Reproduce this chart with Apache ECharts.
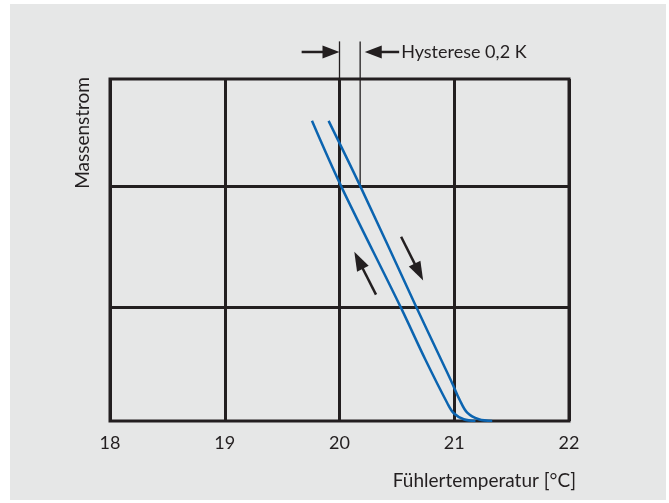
<!DOCTYPE html>
<html>
<head>
<meta charset="utf-8">
<script src="https://cdn.jsdelivr.net/npm/echarts@6/dist/echarts.min.js"></script>
<style>
  html, body { margin: 0; padding: 0; background: #fff; }
  #bg { position: absolute; left: 10px; top: 4px; width: 656px; height: 496px; background: #e6e7e7; }
  #main { position: absolute; left: 0; top: 0; width: 669px; height: 503px; }
</style>
</head>
<body>
<div id="bg"></div>
<div id="main"></div>
<script>
// Achsen
const xMin = 18;
const xMax = 22;
const xStep = 1;
const yMin = 0;
const yMax = 3;
const yGridLines = [1, 2.06];

// Kennlinien [Temperatur, Massenstrom]
const curveRising = [
  [19.76, 2.633], [20.016, 2.056], [20.531, 1.003], [20.749, 0.537],
  [20.94, 0.156], [20.996, 0.068], [21.083, 0.015], [21.185, 0]
];
const curveFalling = [
  [19.905, 2.633], [20.183, 2.056], [20.668, 1.003], [20.886, 0.537],
  [20.982, 0.332], [21.045, 0.19], [21.113, 0.073], [21.214, 0.015], [21.331, 0]
];

// Hysterese-Markierung
const hystX = [20, 20.18];
const hystTop = 3.33;
const hystArrowY = 3.237;
const hystArrowLeft = [19.67, 20];
const hystArrowRight = [20.52, 20.22];
const hystLabel = 'Hysterese 0,2 K';

// Richtungspfeile [von, nach]
const arrowUp = [[20.318, 1.108], [20.129, 1.484]];
const arrowDown = [[20.537, 1.616], [20.729, 1.232]];

const ink = '#231f20';
const blue = '#0b64b0';
const font = 'Lato';

const chart = echarts.init(document.getElementById('main'));

chart.setOption({
  animation: false,
  grid: {
    left: 110,
    right: 100,
    top: 79,
    bottom: 82,
    show: true,
    borderColor: ink,
    borderWidth: 3,
  },
  xAxis: {
    type: 'value',
    min: xMin,
    max: xMax,
    interval: xStep,
    axisLine: { show: false },
    axisTick: { show: false },
    axisLabel: { color: ink, fontSize: 18, fontFamily: font, margin: 13 },
    splitLine: { show: true, lineStyle: { color: ink, width: 3 } },
  },
  yAxis: {
    type: 'value',
    min: yMin,
    max: yMax,
    axisLine: { show: false },
    axisTick: { show: false },
    axisLabel: { show: false },
    splitLine: { show: false },
  },
  series: [
    {
      type: 'line',
      data: curveRising,
      smooth: 0.35,
      showSymbol: false,
      lineStyle: { color: blue, width: 2.5 },
      z: 3,
      markLine: {
        silent: true,
        symbol: 'none',
        z: 1,
        label: { show: false },
        lineStyle: { color: ink, width: 3, type: 'solid' },
        data: yGridLines.map((v) => ({ yAxis: v })),
      },
    },
    {
      type: 'line',
      data: curveFalling,
      smooth: 0.35,
      showSymbol: false,
      lineStyle: { color: blue, width: 2.5 },
      z: 3,
    },
  ],
});

const px = (p) => chart.convertToPixel({ gridIndex: 0 }, p);

function arrow(from, to, headLen, headHalf, width) {
  const p0 = px(from);
  const p1 = px(to);
  const dx = p1[0] - p0[0];
  const dy = p1[1] - p0[1];
  const len = Math.hypot(dx, dy);
  const ux = dx / len;
  const uy = dy / len;
  const bx = p1[0] - ux * headLen;
  const by = p1[1] - uy * headLen;
  return [
    {
      type: 'line',
      shape: { x1: p0[0], y1: p0[1], x2: bx + ux * 2, y2: by + uy * 2 },
      style: { stroke: ink, lineWidth: width },
    },
    {
      type: 'polygon',
      shape: {
        points: [
          [p1[0], p1[1]],
          [bx - uy * headHalf, by + ux * headHalf],
          [bx + uy * headHalf, by - ux * headHalf],
        ],
      },
      style: { fill: ink },
    },
  ];
}

const h0Top = px([hystX[0], hystTop]);
const h0Bot = px([hystX[0], yMax]);
const h1Top = px([hystX[1], hystTop]);
const h1Bot = px([hystX[1], yGridLines[1]]);
const labelPos = px([hystArrowRight[0], hystArrowY]);
const gridBox = { left: px([xMin, yMin])[0], right: px([xMax, yMin])[0], top: px([xMin, yMax])[1], bottom: px([xMin, yMin])[1] };

chart.setOption({
  graphic: [
    {
      type: 'line',
      shape: { x1: h0Top[0], y1: h0Top[1], x2: h0Bot[0], y2: h0Bot[1] },
      style: { stroke: ink, lineWidth: 1.3 },
    },
    {
      type: 'line',
      shape: { x1: h1Top[0], y1: h1Top[1], x2: h1Bot[0], y2: h1Bot[1] },
      style: { stroke: ink, lineWidth: 1.3 },
    },
    ...arrow([hystArrowLeft[0], hystArrowY], [hystArrowLeft[1], hystArrowY], 17, 6.5, 2.5),
    ...arrow([hystArrowRight[0], hystArrowY], [hystArrowRight[1], hystArrowY], 17, 6.5, 2.5),
    ...arrow(arrowUp[0], arrowUp[1], 19, 6.5, 2.5),
    ...arrow(arrowDown[0], arrowDown[1], 19, 6.5, 2.5),
    {
      type: 'text',
      x: labelPos[0] + 2,
      y: labelPos[1],
      style: { text: hystLabel, fill: ink, fontSize: 18, fontFamily: font, verticalAlign: 'middle', align: 'left' },
    },
    {
      type: 'text',
      x: gridBox.right + 7,
      y: gridBox.bottom + 60,
      style: { text: 'Fühlertemperatur [°C]', fill: ink, fontSize: 19, fontFamily: font, verticalAlign: 'middle', align: 'right' },
    },
    {
      type: 'text',
      x: gridBox.left - 27,
      y: gridBox.top - 2,
      rotation: Math.PI / 2,
      style: { text: 'Massenstrom', fill: ink, fontSize: 19, fontFamily: font, verticalAlign: 'middle', align: 'right' },
    },
  ],
});
</script>
</body>
</html>
